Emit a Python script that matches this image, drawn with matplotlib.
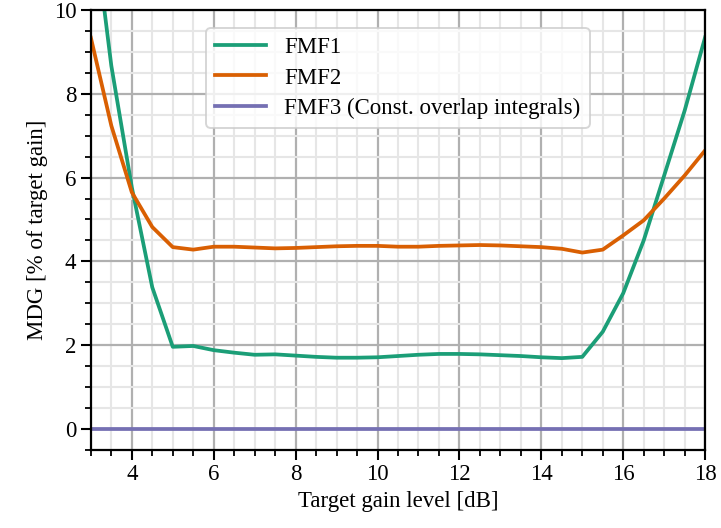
import numpy as np
import matplotlib.pyplot as plt
from matplotlib.ticker import MultipleLocator

plt.rcParams['font.family'] = ['Liberation Serif', 'DejaVu Serif']
plt.rcParams['mathtext.fontset'] = 'stix'

gain_db = np.arange(3.0, 18.01, 0.5)

fmf1 = [12.6, 8.67, 5.77, 3.38, 1.96, 1.98, 1.88, 1.82, 1.77, 1.78, 1.75,
        1.72, 1.70, 1.70, 1.71, 1.74, 1.77, 1.79, 1.79, 1.78, 1.76, 1.74,
        1.71, 1.69, 1.72, 2.32, 3.24, 4.5, 6.05, 7.6, 9.35]
fmf2 = [9.34, 7.24, 5.65, 4.82, 4.34, 4.28, 4.35, 4.35, 4.33, 4.31, 4.32,
        4.34, 4.36, 4.37, 4.37, 4.35, 4.35, 4.37, 4.38, 4.39, 4.38, 4.36,
        4.34, 4.30, 4.21, 4.28, 4.62, 4.98, 5.5, 6.05, 6.65]
fmf3 = [0.0] * len(gain_db)

labels = ["FMF1", "FMF2", "FMF3 (Const. overlap integrals)"]
colors = ["#1b9e77", "#d95f02", "#7570b3"]

fs = 16.5

fig = plt.figure(figsize=(7.21, 5.28), dpi=100)
ax = fig.add_axes([0.126, 0.148, 0.852, 0.833])

for ys, lab, c in zip([fmf1, fmf2, fmf3], labels, colors):
    ax.plot(gain_db, ys, color=c, lw=2.7, label=lab)

ax.set_xlim(3, 18)
ax.set_ylim(-0.5, 10)
ax.xaxis.set_major_locator(MultipleLocator(2))
ax.xaxis.set_minor_locator(MultipleLocator(0.5))
ax.yaxis.set_major_locator(MultipleLocator(2))
ax.yaxis.set_minor_locator(MultipleLocator(0.5))
ax.grid(which='major', color='#b0b0b0', lw=1.6)
ax.grid(which='minor', color='#e6e6e6', lw=1.5)
ax.set_axisbelow(True)
for s in ax.spines.values():
    s.set_linewidth(1.6)
ax.tick_params(which='major', length=7, width=1.5, labelsize=fs)
ax.tick_params(which='minor', length=4, width=1.3)

ax.set_xlabel("Target gain level [dB]", fontsize=fs)
ax.set_ylabel("MDG [% of target gain]", fontsize=fs)

leg = ax.legend(loc='upper center', bbox_to_anchor=(0.5, 0.985), fontsize=fs,
                framealpha=0.8, edgecolor='#cccccc', handlelength=2.2,
                labelspacing=0.4)
leg.get_frame().set_linewidth(1.4)

fig.savefig("out.png", dpi=100)
